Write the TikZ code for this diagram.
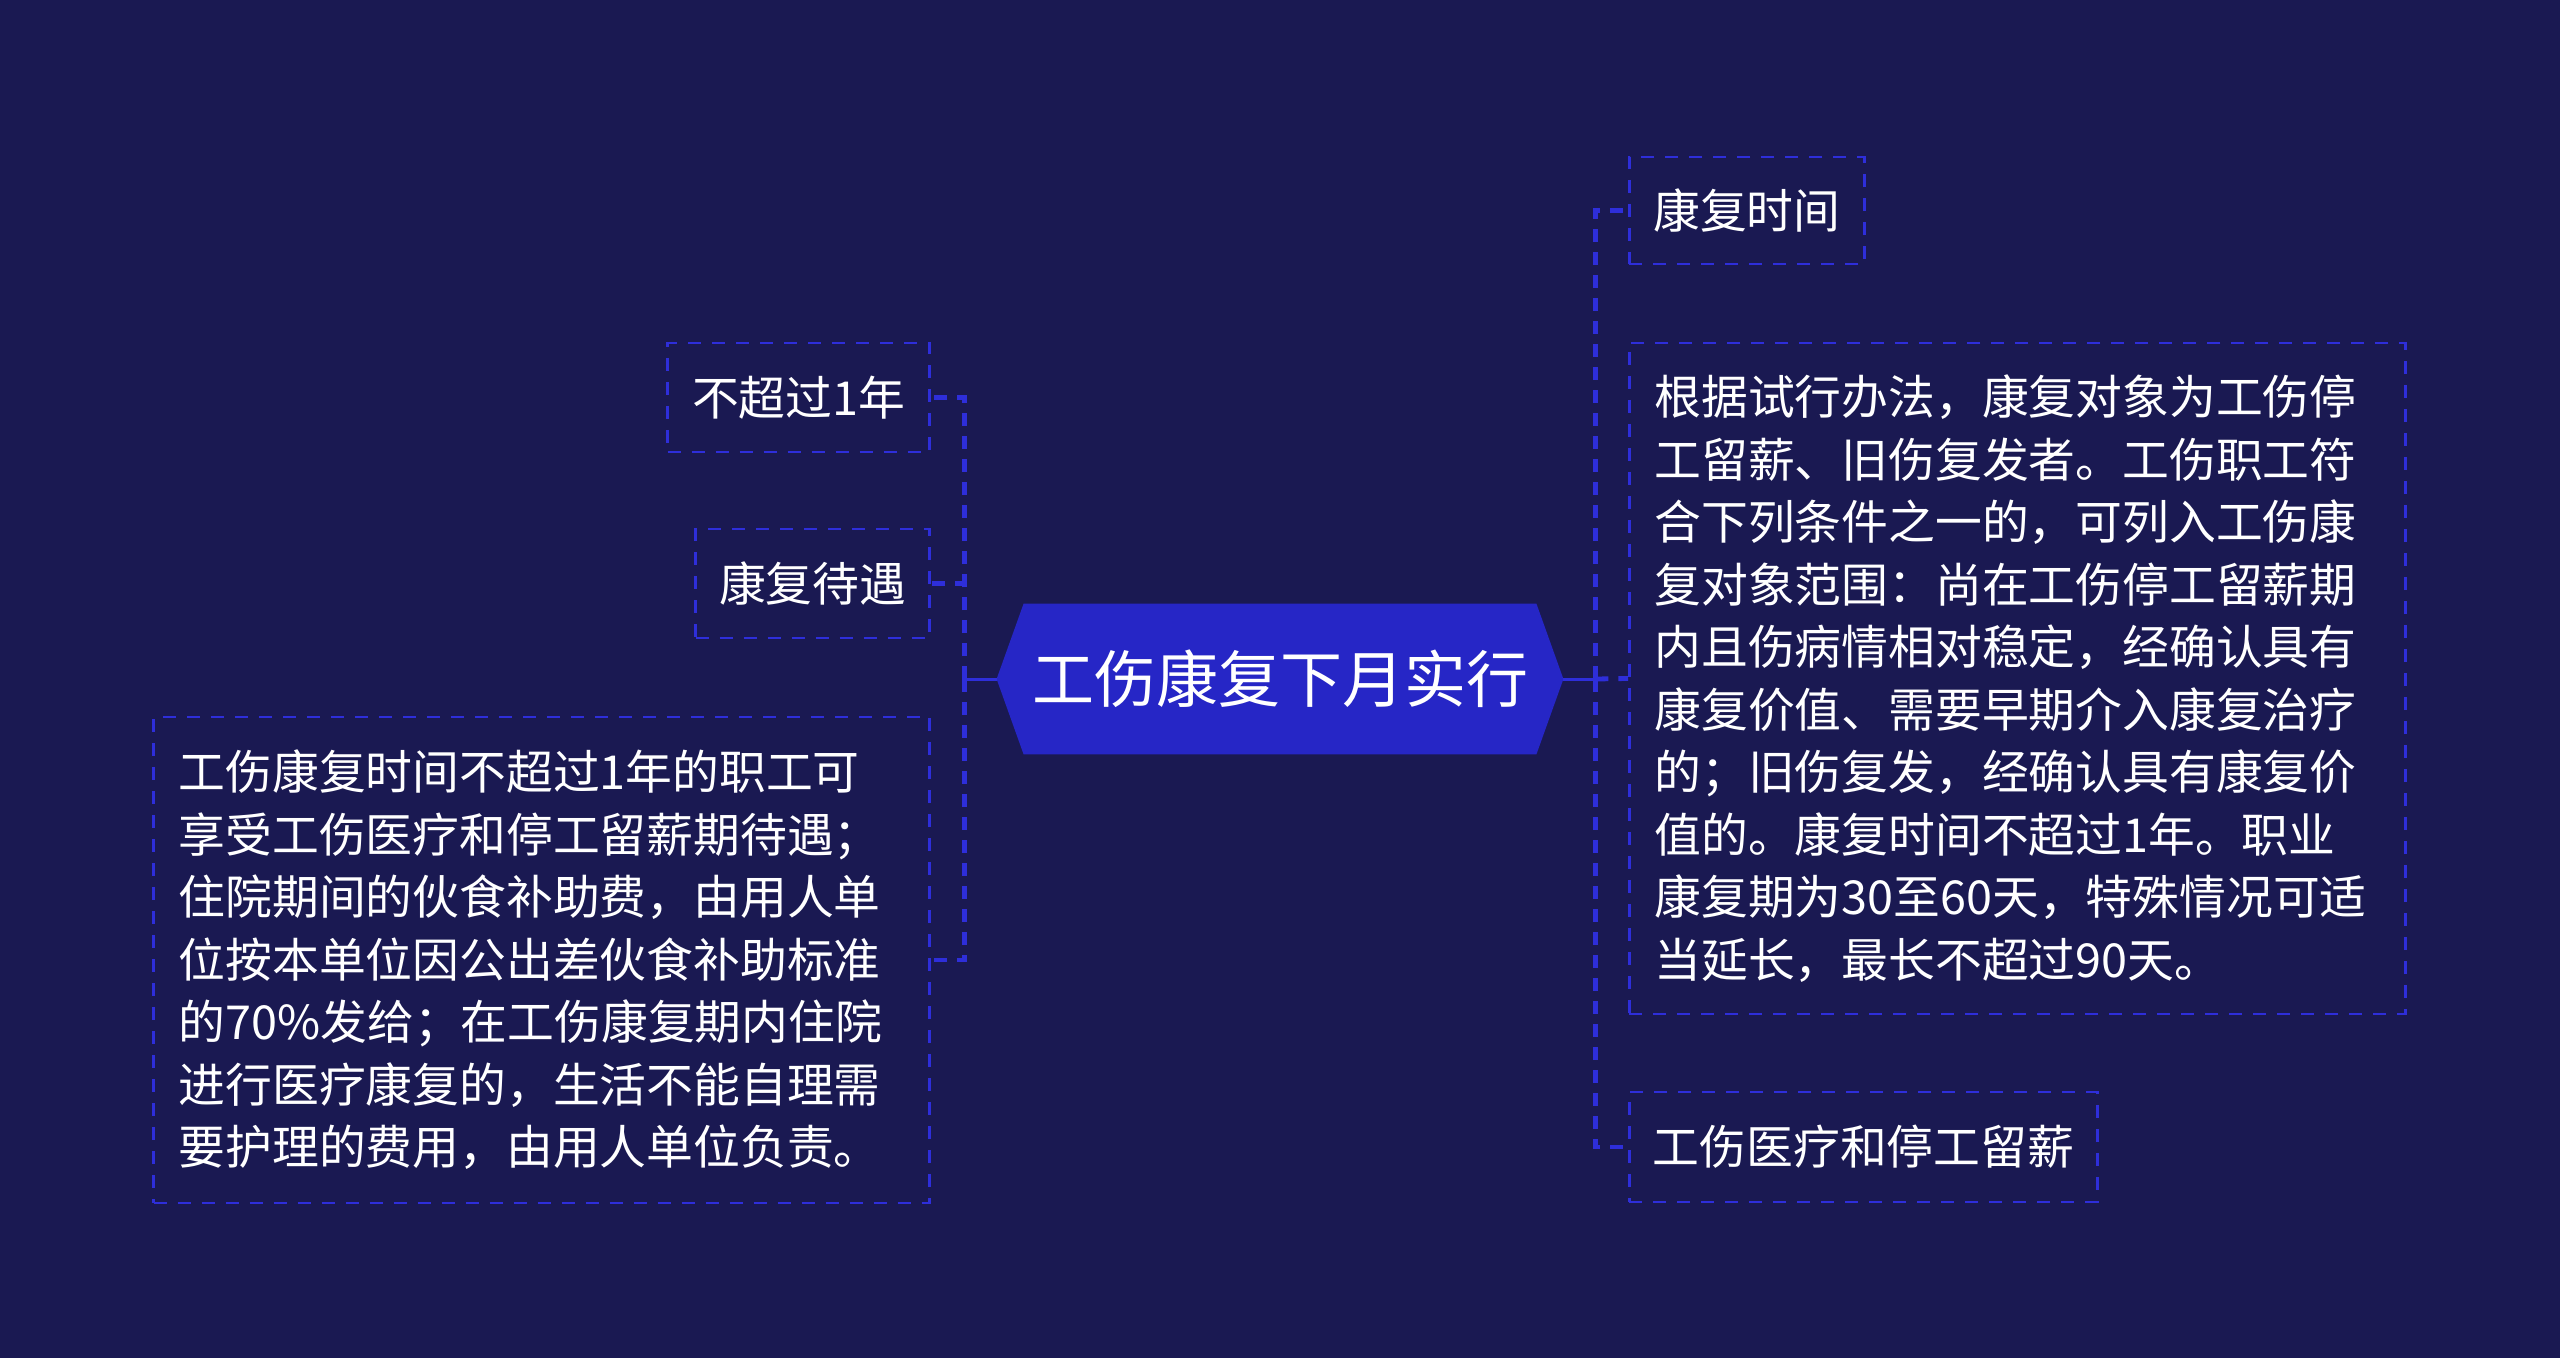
\documentclass[tikz,border=0pt]{standalone}
\usepackage{fontspec}
\setmainfont{Noto Sans CJK SC}
\usetikzlibrary{calc}
\definecolor{bgc}{RGB}{26,25,82}
\definecolor{hexc}{RGB}{38,38,198}
\definecolor{linec}{RGB}{46,46,218}
\pgfdeclarelayer{pagebg}
\pgfdeclarelayer{hexbg}
\pgfsetlayers{pagebg,hexbg,main}
\begin{document}
\begin{tikzpicture}[x=0.5pt,y=-0.5pt,
  leaf/.style={draw=linec, line width=1.4pt, dash pattern=on 6.5pt off 5.5pt, text=white,
    font=\fontsize{23.4pt}{31.25pt}\selectfont, inner sep=0pt, minimum height=54.5pt, align=center},
  para/.style={leaf, align=left, text width=363pt, inner xsep=12.5pt},
  trunk/.style={draw=linec, line width=2.4pt, dash pattern=on 6.5pt off 5pt},
  stem/.style={draw=linec, line width=1.5pt}
]
\begin{pgfonlayer}{pagebg}
\fill[bgc] (0,0) rectangle (2560,1358);
\end{pgfonlayer}
\useasboundingbox (0,0) rectangle (2560,1358);

\node[text=white, font=\fontsize{31pt}{36pt}\selectfont, minimum width=283pt, minimum height=75pt, inner sep=0pt] (root) at (1280,679) {工伤康复下月实行};
\begin{pgfonlayer}{hexbg}
\fill[hexc] ([xshift=13.5pt]root.north west) -- ([xshift=-13.5pt]root.north east) -- (root.east)
  -- ([xshift=-13.5pt]root.south east) -- ([xshift=13.5pt]root.south west) -- (root.west) -- cycle;
\end{pgfonlayer}

\node[leaf, minimum width=131pt, anchor=east] (l1) at (931,397.5) {不超过1年};
\node[leaf, minimum width=117pt, anchor=east] (l2) at (931,583.5) {康复待遇};
\node[para, minimum height=243pt, anchor=east] (l3) at (931,960) {工伤康复时间不超过1年的职工可\\享受工伤医疗和停工留薪期待遇；\\住院期间的伙食补助费，由用人单\\位按本单位因公出差伙食补助标准\\的70\%发给；在工伤康复期内住院\\进行医疗康复的，生活不能自理需\\要护理的费用，由用人单位负责。};

\node[leaf, minimum width=117.5pt, minimum height=53.5pt, anchor=west] (r1) at (1628,210.5) {康复时间};
\node[para, minimum height=335.5pt, anchor=west] (r2) at (1628,678.5) {根据试行办法，康复对象为工伤停\\工留薪、旧伤复发者。工伤职工符\\合下列条件之一的，可列入工伤康\\复对象范围：尚在工伤停工留薪期\\内且伤病情相对稳定，经确认具有\\康复价值、需要早期介入康复治疗\\的；旧伤复发，经确认具有康复价\\值的。康复时间不超过1年。职业\\康复期为30至60天，特殊情况可适\\当延长，最长不超过90天。};
\node[leaf, minimum width=234pt, minimum height=55pt, anchor=west] (r3) at (1628,1147) {工伤医疗和停工留薪};

\draw[stem] (root.west) -- ++(-16pt,0) coordinate (jl);
\draw[trunk] (jl) |- (l1.east);
\draw[trunk] (jl) |- (l2.east);
\draw[trunk] (jl) |- (l3.east);

\draw[stem] (root.east) -- ++(16pt,0) coordinate (jr);
\draw[trunk] (jr) |- (r1.west);
\draw[trunk] (jr) -- (r2.west);
\draw[trunk] (jr) |- (r3.west);
\end{tikzpicture}
\end{document}
